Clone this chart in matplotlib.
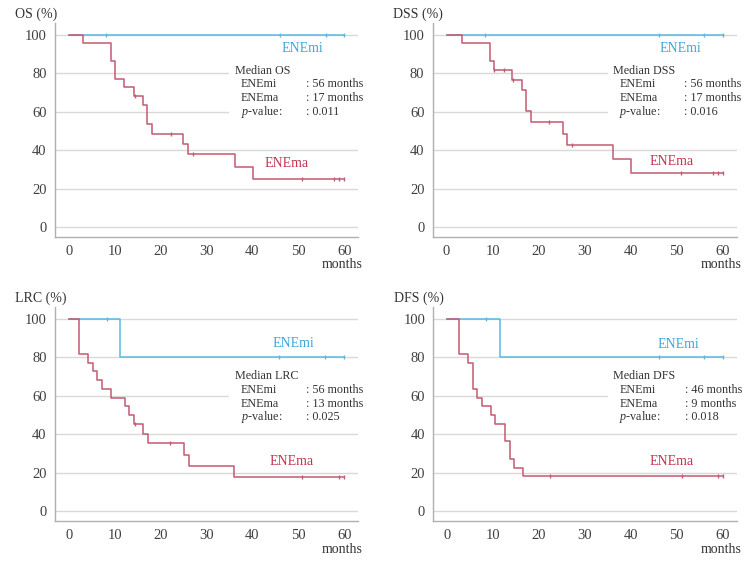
import numpy as np
import matplotlib
matplotlib.use("Agg")
import matplotlib.pyplot as plt
from matplotlib.patches import Rectangle

plt.rcParams['font.family'] = ['Liberation Serif', 'DejaVu Serif']
plt.rcParams['mathtext.fontset'] = 'custom'
plt.rcParams['mathtext.rm'] = 'Liberation Serif'
plt.rcParams['mathtext.it'] = 'Liberation Serif:italic'

#---------------------------------------------- data
panels = ['OS', 'DSS', 'LRC', 'DFS']

# ENEmi : step times / survival (%), censor times
mi_t = {'OS': [0], 'DSS': [0], 'LRC': [0, 11.2], 'DFS': [0, 11.5]}
mi_s = {'OS': [100], 'DSS': [100], 'LRC': [100, 80], 'DFS': [100, 80]}
mi_c = {'OS': [8.2, 46.0, 56.0, 60.0],
        'DSS': [8.3, 46.1, 56.0, 60.0],
        'LRC': [8.3, 45.9, 55.9, 59.9],
        'DFS': [8.5, 46.1, 56.0, 60.0]}

# ENEma
ma_t = {'OS': [0, 3.1, 9.2, 10.0, 12.1, 14.3, 16.2, 17.1, 18.1, 24.9, 26.0, 36.2, 40.1],
        'DSS': [0, 3.4, 9.4, 10.3, 14.3, 16.3, 17.2, 18.3, 25.2, 26.1, 36.2, 40.1],
        'LRC': [0, 2.3, 4.2, 5.2, 6.2, 7.3, 9.3, 12.2, 13.2, 14.2, 16.2, 17.3, 25.2, 26.1, 36.1],
        'DFS': [0, 2.5, 4.5, 5.6, 6.5, 7.5, 9.6, 10.4, 12.5, 13.6, 14.5, 16.5]}
ma_s = {'OS': [100, 95.5, 86.4, 77.3, 72.7, 68.2, 63.3, 53.6, 48.7, 43.3, 37.9, 31.6, 25.3],
        'DSS': [100, 95.5, 86.4, 81.8, 76.7, 71.2, 60.3, 54.8, 48.7, 42.6, 35.5, 28.4],
        'LRC': [100, 81.8, 77.3, 72.7, 68.2, 63.6, 59.1, 54.5, 50.0, 45.5, 40.4, 35.4, 29.5, 23.6, 17.7],
        'DFS': [100, 81.8, 77.3, 63.6, 59.1, 54.5, 50.0, 45.5, 36.4, 27.3, 22.7, 18.2]}
ma_c = {'OS': [14.5, 22.2, 27.0, 50.9, 57.7, 58.8, 59.9],
        'DSS': [10.4, 12.5, 14.4, 22.3, 27.2, 50.9, 58.0, 58.9, 60.0],
        'LRC': [14.5, 22.1, 50.8, 58.8, 59.9],
        'DFS': [22.4, 51.2, 58.9, 60.0]}

median_mi = {'OS': '56 months', 'DSS': '56 months', 'LRC': '56 months', 'DFS': '46 months'}
median_ma = {'OS': '17 months', 'DSS': '17 months', 'LRC': '13 months', 'DFS': '9 months'}
p_values = {'OS': '0.011', 'DSS': '0.016', 'LRC': '0.025', 'DFS': '0.018'}

# label positions (data coords)
mi_lab = {'OS': (50.9, 93.1), 'DSS': (50.9, 93.1), 'LRC': (49.0, 87.0), 'DFS': (50.4, 86.7)}
ma_lab = {'OS': (47.5, 33.1), 'DSS': (48.8, 34.3), 'LRC': (48.6, 26.1), 'DFS': (48.8, 26.1)}
box_top = {'OS': 81.3, 'DSS': 81.3, 'LRC': 70.2, 'DFS': 70.2}

#---------------------------------------------- style
c_mi = '#5cb9e2'
c_ma = '#c45a72'
c_mi_txt = '#3aa8dc'
c_ma_txt = '#c23450'
c_grid = '#d9d9d9'
c_txt = '#333333'

fig = plt.figure(figsize=(7.5, 5.64), dpi=100)
rects = {'OS': [0.0733, 0.5798, 0.404, 0.379],
         'DSS': [0.577, 0.5798, 0.405, 0.379],
         'LRC': [0.0733, 0.0762, 0.404, 0.379],
         'DFS': [0.578, 0.0762, 0.404, 0.379]}


def curve(ax, t, s, c, color):
   t = list(t) + [60.0]
   s = list(s) + [s[-1]]
   ax.step(t, s, where='post', color=color, lw=1.1, zorder=3)
   idx = np.searchsorted(t, c, side='right') - 1
   cy = np.array(s)[idx]
   ax.plot(c, cy, ls='none', marker='|', ms=3.5, mew=1.0, color=color, zorder=4)


for name in panels:
   ax = fig.add_axes(rects[name])
   ax.set_xlim(-3, 63)
   ax.set_ylim(-5, 106)
   ax.set_xticks([0, 10, 20, 30, 40, 50, 60])
   ax.set_yticks([0, 20, 40, 60, 80, 100])
   ax.tick_params(length=0, pad=6, labelsize=10.5, labelcolor='#404040')
   for sp in ['top', 'right']:
      ax.spines[sp].set_visible(False)
   for sp in ['left', 'bottom']:
      ax.spines[sp].set_color('#b0b0b0')
      ax.spines[sp].set_linewidth(1.0)
   for yv in [0, 20, 40, 60, 80, 100]:
      ax.axhline(yv, color=c_grid, lw=1.0, zorder=1)

   # white box behind median text
   bt = box_top[name]
   ax.add_patch(Rectangle((35.0, bt - 26.5), 30, 31, facecolor='white',
                          edgecolor='none', zorder=2, clip_on=False))

   curve(ax, mi_t[name], mi_s[name], mi_c[name], c_mi)
   curve(ax, ma_t[name], ma_s[name], ma_c[name], c_ma)

   ax.text(*mi_lab[name], 'ENEmi', color=c_mi_txt, fontsize=10, ha='center', va='center', zorder=5)
   ax.text(*ma_lab[name], 'ENEma', color=c_ma_txt, fontsize=10, ha='center', va='center', zorder=5)

   fs = 8.7
   ax.text(36.2, bt, 'Median ' + name, fontsize=fs, color=c_txt, va='center', zorder=5)
   ax.text(37.5, bt - 7.0, 'ENEmi', fontsize=fs, color=c_txt, va='center', zorder=5)
   ax.text(51.7, bt - 7.0, ': ' + median_mi[name], fontsize=fs, color=c_txt, va='center', zorder=5)
   ax.text(37.5, bt - 14.2, 'ENEma', fontsize=fs, color=c_txt, va='center', zorder=5)
   ax.text(51.7, bt - 14.2, ': ' + median_ma[name], fontsize=fs, color=c_txt, va='center', zorder=5)
   ax.text(37.5, bt - 21.2, r'$p$-value:', fontsize=fs, color=c_txt, va='center', zorder=5)
   ax.text(51.7, bt - 21.2, ': ' + p_values[name], fontsize=fs, color=c_txt, va='center', zorder=5)

   ax.text(-0.132, 1.042, name + ' (%)', transform=ax.transAxes, fontsize=10,
           color=c_txt, ha='left', va='center')
   ax.text(1.016, -0.131, 'months', transform=ax.transAxes, fontsize=10,
           color=c_txt, ha='right', va='center')

fig.savefig('out.png', dpi=100)
